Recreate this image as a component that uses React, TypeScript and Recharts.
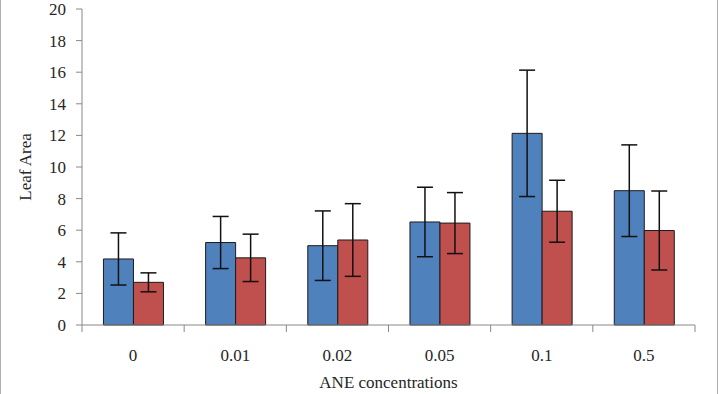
import { BarChart, Bar, XAxis, YAxis, ErrorBar } from "recharts";

const categories = ["0", "0.01", "0.02", "0.05", "0.1", "0.5"];
const seriesA = [4.18, 5.22, 5.02, 6.52, 12.13, 8.5];
const seriesAErr = [1.65, 1.65, 2.2, 2.2, 4.0, 2.9];
const seriesB = [2.7, 4.25, 5.38, 6.45, 7.2, 5.98];
const seriesBErr = [0.6, 1.5, 2.3, 1.93, 1.96, 2.5];
const yTicks = [0, 2, 4, 6, 8, 10, 12, 14, 16, 18, 20];

const data = categories.map((c, i) => ({
  conc: c,
  a: seriesA[i],
  aErr: seriesAErr[i],
  b: seriesB[i],
  bErr: seriesBErr[i],
}));

const font = "'Liberation Serif', 'DejaVu Serif', serif";
const textColor = "#262626";
const axisColor = "#888888";

// Excel-style category axis: tick marks sit between categories, not under them
const CategoryTick = (props: any) => {
  const { x, y, width, payload, index, visibleTicksCount } = props;
  const band = width / visibleTicksCount;
  const left = x - band / 2;
  return (
    <g>
      <line x1={left} y1={y - 8} x2={left} y2={y - 1} stroke={axisColor} />
      {index === visibleTicksCount - 1 && (
        <line x1={left + band} y1={y - 8} x2={left + band} y2={y - 1} stroke={axisColor} />
      )}
      <text
        x={x}
        y={y + 28}
        textAnchor="middle"
        fill={textColor}
        fontSize={17}
        style={{ fontFamily: font }}
      >
        {payload.value}
      </text>
    </g>
  );
};

export default function App() {
  return (
    <div
      style={{
        position: "absolute",
        left: 0,
        top: 0,
        width: 716,
        height: 394,
        borderLeft: "1px solid #b0b0b0",
        borderRight: "1px solid #b0b0b0",
        background: "#fff",
        fontFamily: font,
      }}
    >
      <BarChart
        width={716}
        height={394}
        data={data}
        margin={{ top: 9, right: 22, bottom: 0, left: 0 }}
        barCategoryGap="21%"
        barGap={0}
        style={{ fontFamily: font }}
      >
        <XAxis
          dataKey="conc"
          height={69}
          axisLine={{ stroke: axisColor }}
          tickLine={false}
          tick={<CategoryTick />}
          interval={0}
          label={{
            value: "ANE concentrations",
            position: "insideBottom",
            offset: 6,
            fill: textColor,
            fontSize: 17,
            style: { fontFamily: font },
          }}
        />
        <YAxis
          width={81}
          domain={[0, 20]}
          ticks={yTicks}
          interval={0}
          axisLine={{ stroke: axisColor }}
          tickLine={{ stroke: axisColor }}
          tickSize={6}
          tickMargin={10}
          tick={{ fill: textColor, fontSize: 17, style: { fontFamily: font } }}
          label={{
            value: "Leaf Area",
            angle: -90,
            position: "insideLeft",
            offset: 24,
            style: { textAnchor: "middle", fontFamily: font },
            fill: textColor,
            fontSize: 17,
          }}
        />
        <Bar dataKey="a" name="Series 1" fill="#4F81BD" stroke="#1c1c1c" strokeWidth={1} isAnimationActive={false}>
          <ErrorBar dataKey="aErr" width={8} stroke="#111" strokeWidth={1.5} />
        </Bar>
        <Bar dataKey="b" name="Series 2" fill="#C0504D" stroke="#1c1c1c" strokeWidth={1} isAnimationActive={false}>
          <ErrorBar dataKey="bErr" width={8} stroke="#111" strokeWidth={1.5} />
        </Bar>
      </BarChart>
    </div>
  );
}
